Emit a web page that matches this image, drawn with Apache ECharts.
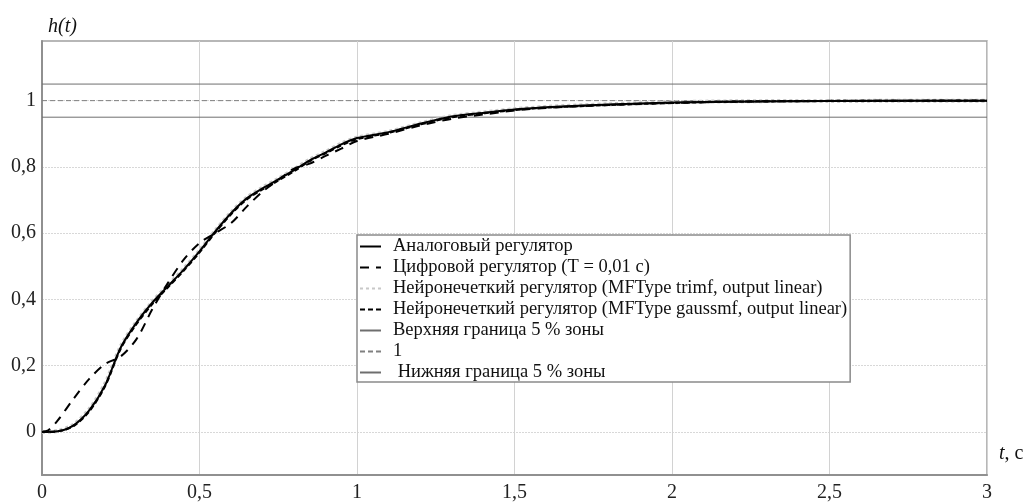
<!DOCTYPE html>
<html>
<head>
<meta charset="utf-8">
<script src="https://cdn.jsdelivr.net/npm/echarts@6/dist/echarts.min.js"></script>
<style>html,body{margin:0;padding:0;background:#fff}#c{width:1032px;height:503px}</style>
</head>
<body>
<div id="c"></div>
<script>
// ---- data ----
const seriesNames = [
  'Аналоговый регулятор',
  'Цифровой регулятор (T = 0,01 с)',
  'Нейронечеткий регулятор (MFType trimf, output linear)',
  'Нейронечеткий регулятор (MFType gaussmf, output linear)',
  'Верхняя граница 5 % зоны',
  '1',
  ' Нижняя граница 5 % зоны'
];
const tAnalog = [0, 0.05, 0.1, 0.15, 0.2, 0.25, 0.3, 0.35, 0.4, 0.45, 0.5, 0.55, 0.6, 0.65, 0.7, 0.75, 0.8, 0.85, 0.9, 0.95, 1.0, 1.1, 1.2, 1.3, 1.4, 1.5, 1.6, 1.8, 2.0, 2.2, 2.5, 3.0];
const hAnalog = [0, 0.002, 0.02, 0.065, 0.14, 0.255, 0.33, 0.39, 0.44, 0.49, 0.545, 0.605, 0.66, 0.705, 0.735, 0.762, 0.79, 0.82, 0.843, 0.868, 0.887, 0.905, 0.93, 0.952, 0.963, 0.973, 0.98, 0.988, 0.994, 0.997, 0.999, 1.0];
const tDigital = [0, 0.02, 0.05, 0.1, 0.15, 0.2, 0.25, 0.3, 0.35, 0.4, 0.45, 0.5, 0.55, 0.6, 0.65, 0.7, 0.75, 0.8, 0.85, 0.9, 0.95, 1.0, 1.1, 1.2, 1.3, 1.4, 1.5, 1.6, 1.8, 2.0, 2.2, 2.5, 3.0];
const hDigital = [0, 0.005, 0.035, 0.1, 0.16, 0.205, 0.228, 0.28, 0.37, 0.45, 0.52, 0.57, 0.6, 0.63, 0.68, 0.725, 0.76, 0.795, 0.81, 0.833, 0.855, 0.878, 0.9, 0.925, 0.945, 0.958, 0.97, 0.978, 0.987, 0.993, 0.997, 0.999, 1.0];
const tTrimf = [0, 0.05, 0.1, 0.15, 0.2, 0.25, 0.3, 0.35, 0.4, 0.45, 0.5, 0.55, 0.6, 0.65, 0.7, 0.75, 0.8, 0.85, 0.9, 0.95, 1.0, 1.1, 1.2, 1.3, 1.4, 1.5, 1.6, 1.8, 2.0, 2.2, 2.5, 3.0];
const hTrimf = [0, 0.003, 0.022, 0.068, 0.145, 0.258, 0.332, 0.392, 0.442, 0.492, 0.547, 0.607, 0.662, 0.707, 0.737, 0.764, 0.792, 0.822, 0.845, 0.87, 0.888, 0.906, 0.931, 0.953, 0.964, 0.974, 0.981, 0.989, 0.995, 0.998, 0.999, 1.0];
const tGauss = [0, 0.05, 0.1, 0.15, 0.2, 0.25, 0.3, 0.35, 0.4, 0.45, 0.5, 0.55, 0.6, 0.65, 0.7, 0.75, 0.8, 0.85, 0.9, 0.95, 1.0, 1.1, 1.2, 1.3, 1.4, 1.5, 1.6, 1.8, 2.0, 2.2, 2.5, 3.0];
const hGauss = [0, 0.002, 0.018, 0.062, 0.138, 0.252, 0.326, 0.386, 0.437, 0.487, 0.542, 0.602, 0.657, 0.702, 0.732, 0.759, 0.787, 0.818, 0.841, 0.865, 0.884, 0.903, 0.928, 0.95, 0.962, 0.972, 0.979, 0.987, 0.993, 0.997, 0.999, 1.0];
const upperBound = 1.05;
const setpoint = 1.0;
const lowerBound = 0.95;
const tRange = [0, 3];
const yTicks = [0, 0.2, 0.4, 0.6, 0.8, 1];

const zip = (a, b) => a.map((v, i) => [v, b[i]]);
const flat = (v) => tRange.map(t => [t, v]);
const serif = 'Liberation Serif';

const chart = echarts.init(document.getElementById('c'), null, {renderer: 'canvas'});
chart.setOption({
  backgroundColor: '#fff',
  animation: false,
  grid: {left: 42, right: 45, top: 41, bottom: 25, show: true, borderColor: '#a0a0a0', borderWidth: 1.5},
  xAxis: {
    type: 'value', min: 0, max: 3, interval: 0.5,
    axisLine: {show: true, onZero: false, lineStyle: {color: '#909090', width: 2}},
    axisTick: {show: false},
    splitLine: {show: true, lineStyle: {color: '#d2d2d2', width: 1}},
    axisLabel: {color: '#222', fontFamily: serif, fontSize: 20, margin: 8,
      formatter: v => String(v).replace('.', ',')}
  },
  yAxis: {
    type: 'value', min: -0.13, max: 1.18,
    axisLine: {show: true, onZero: false, lineStyle: {color: '#909090', width: 2}},
    axisTick: {show: false, customValues: yTicks},
    splitLine: {show: true, lineStyle: {color: '#d8d8d8', width: 1, type: [2, 1]}},
    axisLabel: {color: '#222', fontFamily: serif, fontSize: 20, margin: 6, customValues: yTicks,
      formatter: v => String(Math.round(v * 10) / 10).replace('.', ',')}
  },
  legend: {
    orient: 'vertical', left: 357, top: 235,
    padding: [2, 3, 0, 2], itemGap: 2, itemWidth: 21, itemHeight: 14,
    backgroundColor: '#fff', borderColor: '#8a8a8a', borderWidth: 1.5, borderRadius: 0,
    itemStyle: {opacity: 0, borderWidth: 0},
    textStyle: {fontFamily: serif, fontSize: 18.5, color: '#111', lineHeight: 19, padding: [0, 0, 0, 7]},
    data: seriesNames
  },
  graphic: [
    {type: 'text', left: 48, top: 17, style: {text: 'h(t)', fontFamily: serif, fontSize: 20, fontStyle: 'italic', fill: '#111'}},
    {type: 'text', left: 999, top: 444, style: {text: '{i|t}, c', fontFamily: serif, fontSize: 20, fill: '#111',
      rich: {i: {fontFamily: serif, fontSize: 20, fontStyle: 'italic', fill: '#111'}}}}
  ],
  series: [
    {name: seriesNames[4], type: 'line', data: flat(upperBound), symbol: 'none', z: 1, lineStyle: {color: '#6e6e6e', width: 1}, itemStyle: {color: '#6e6e6e'}},
    {name: seriesNames[5], type: 'line', data: flat(setpoint), symbol: 'none', z: 1, lineStyle: {color: '#808080', width: 1, type: [5, 3]}, itemStyle: {color: '#808080'}},
    {name: seriesNames[6], type: 'line', data: flat(lowerBound), symbol: 'none', z: 1, lineStyle: {color: '#6e6e6e', width: 1}, itemStyle: {color: '#6e6e6e'}},
    {name: seriesNames[2], type: 'line', data: zip(tTrimf, hTrimf), symbol: 'none', smooth: 0.3, z: 2, lineStyle: {color: '#c8c8c8', width: 4, type: [3, 3]}, itemStyle: {color: '#c8c8c8'}},
    {name: seriesNames[0], type: 'line', data: zip(tAnalog, hAnalog), symbol: 'none', smooth: 0.3, z: 3, lineStyle: {color: '#000', width: 2}, itemStyle: {color: '#000'}},
    {name: seriesNames[3], type: 'line', data: zip(tGauss, hGauss), symbol: 'none', smooth: 0.3, z: 4, lineStyle: {color: '#000', width: 2.2, type: [5, 3]}, itemStyle: {color: '#000'}},
    {name: seriesNames[1], type: 'line', data: zip(tDigital, hDigital), symbol: 'none', smooth: 0.3, z: 5, lineStyle: {color: '#000', width: 2, type: [9, 7]}, itemStyle: {color: '#000'}}
  ]
});
</script>
</body>
</html>
